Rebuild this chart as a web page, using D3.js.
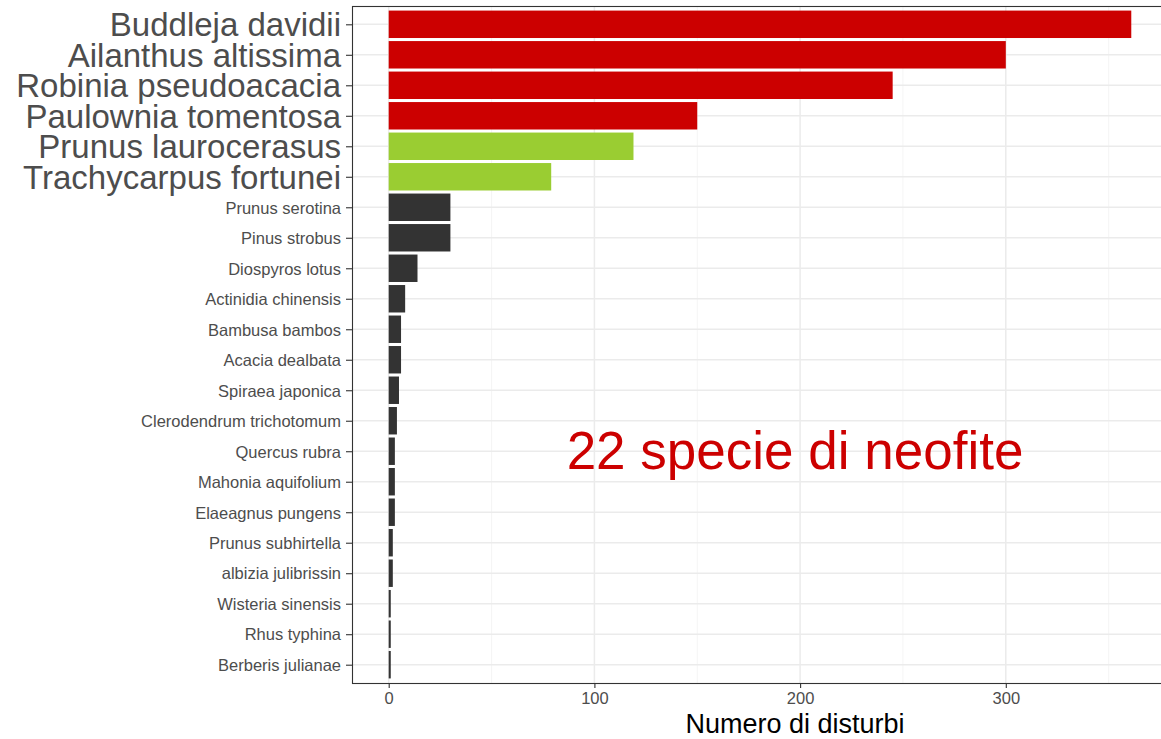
<!DOCTYPE html>
<html>
<head>
<meta charset="utf-8">
<script src="https://cdn.jsdelivr.net/npm/d3@7"></script>
<style>
  html, body { margin: 0; padding: 0; background: #fff; }
  svg { display: block; font-family: "Liberation Sans", Arial, sans-serif; }
</style>
</head>
<body>
<svg id="chart" width="1161" height="739"></svg>
<script>
// ---- data ----
const species = [
  "Buddleja davidii", "Ailanthus altissima", "Robinia pseudoacacia", "Paulownia tomentosa",
  "Prunus laurocerasus", "Trachycarpus fortunei", "Prunus serotina", "Pinus strobus",
  "Diospyros lotus", "Actinidia chinensis", "Bambusa bambos", "Acacia dealbata",
  "Spiraea japonica", "Clerodendrum trichotomum", "Quercus rubra", "Mahonia aquifolium",
  "Elaeagnus pungens", "Prunus subhirtella", "albizia julibrissin", "Wisteria sinensis",
  "Rhus typhina", "Berberis julianae"
];
const disturbi = [361, 300, 245, 150, 119, 79, 30, 30, 14, 8, 6, 6, 5, 4, 3, 3, 3, 2, 2, 1, 1, 1];
const gruppo = ["top", "top", "top", "top", "mid", "mid",
  "low", "low", "low", "low", "low", "low", "low", "low", "low", "low", "low", "low", "low", "low", "low", "low"];
const xTicks = [0, 100, 200, 300];
const xMinor = [50, 150, 250, 350];
const xTitle = "Numero di disturbi";
const annotation = "22 specie di neofite";

const colors = { top: "#cc0000", mid: "#9acd32", low: "#333333" };

// ---- layout ----
const svg = d3.select("#chart");
const panel = { left: 352, top: 6, right: 1172, bottom: 683 };

const x = d3.scaleLinear().domain([0, 300]).range([388.7, 1005.8]);
const y = d3.scalePoint().domain(species).range([panel.top, panel.bottom]).padding(0.6);
const barH = y.step() * 0.9;

// panel background
svg.append("rect")
  .attr("x", panel.left).attr("y", panel.top)
  .attr("width", panel.right - panel.left).attr("height", panel.bottom - panel.top)
  .attr("fill", "#fff");

// minor grid
svg.append("g").selectAll("line").data(xMinor).join("line")
  .attr("x1", d => x(d)).attr("x2", d => x(d))
  .attr("y1", panel.top).attr("y2", panel.bottom)
  .attr("stroke", "#f2f2f2").attr("stroke-width", 0.8);
// major grid vertical
svg.append("g").selectAll("line").data(xTicks).join("line")
  .attr("x1", d => x(d)).attr("x2", d => x(d))
  .attr("y1", panel.top).attr("y2", panel.bottom)
  .attr("stroke", "#ebebeb").attr("stroke-width", 1.5);
// major grid horizontal
svg.append("g").selectAll("line").data(species).join("line")
  .attr("x1", panel.left).attr("x2", panel.right)
  .attr("y1", d => y(d)).attr("y2", d => y(d))
  .attr("stroke", "#ebebeb").attr("stroke-width", 1.5);

// bars
const data = species.map((s, i) => ({ s, v: disturbi[i], g: gruppo[i] }));
svg.append("g").selectAll("rect").data(data).join("rect")
  .attr("x", x(0))
  .attr("y", d => y(d.s) - barH / 2)
  .attr("width", d => x(d.v) - x(0))
  .attr("height", barH)
  .attr("fill", d => colors[d.g]);

// annotation
svg.append("text")
  .attr("x", 795).attr("y", 469)
  .attr("text-anchor", "middle")
  .attr("font-size", 53)
  .attr("fill", "#cc0000")
  .text(annotation);

// panel border
svg.append("rect")
  .attr("x", panel.left + 0.5).attr("y", panel.top + 0.5)
  .attr("width", panel.right - panel.left).attr("height", panel.bottom - panel.top)
  .attr("fill", "none").attr("stroke", "#333").attr("stroke-width", 1.1);

// y axis
const yAxis = svg.append("g").attr("transform", `translate(${panel.left},0)`)
  .call(d3.axisLeft(y).tickSize(6).tickPadding(5));
yAxis.select(".domain").remove();
yAxis.selectAll(".tick line").attr("stroke", "#333").attr("stroke-width", 1.1);
yAxis.selectAll(".tick text")
  .attr("fill", "#4d4d4d")
  .attr("font-family", "'Liberation Sans', Arial, sans-serif")
  .attr("font-size", (d, i) => gruppo[i] === "low" ? 16.5 : 33)
  .attr("dy", "0.35em");

// x axis
const xAxis = svg.append("g").attr("transform", `translate(0,${panel.bottom})`)
  .call(d3.axisBottom(x).tickValues(xTicks).tickSize(5).tickPadding(4).tickFormat(d3.format("d")));
xAxis.select(".domain").remove();
xAxis.selectAll(".tick line").attr("stroke", "#333").attr("stroke-width", 1.1);
xAxis.selectAll(".tick text")
  .attr("fill", "#4d4d4d")
  .attr("font-family", "'Liberation Sans', Arial, sans-serif")
  .attr("font-size", 16.5);

// x title
svg.append("text")
  .attr("x", 795).attr("y", 733)
  .attr("text-anchor", "middle")
  .attr("font-size", 27)
  .attr("fill", "#000")
  .text(xTitle);
</script>
</body>
</html>
